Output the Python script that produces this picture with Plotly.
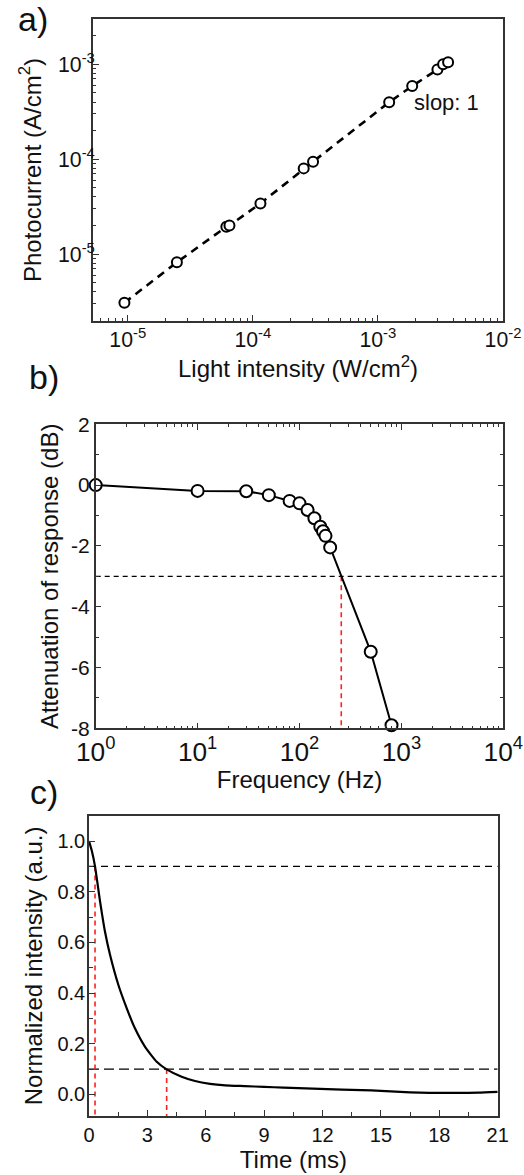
import plotly.graph_objects as go

FONT = "Liberation Sans, Arial, sans-serif"

# ---------- Panel a data ----------
intensity = [9.4e-6, 2.47e-5, 6.14e-5, 6.5e-5, 1.15e-4, 2.55e-4, 3.03e-4,
             1.23e-3, 1.88e-3, 2.99e-3, 3.32e-3, 3.64e-3]
photocurrent = [3.07e-6, 8.2e-6, 1.94e-5, 2.0e-5, 3.42e-5, 8.0e-5, 9.4e-5,
                3.98e-4, 5.9e-4, 8.8e-4, 1.0e-3, 1.05e-3]

# ---------- Panel b data ----------
freq = [1, 10, 30, 50, 80, 100, 120, 140, 160, 170, 180, 200, 500, 800]
atten = [0.0, -0.19, -0.2, -0.33, -0.52, -0.6, -0.82, -1.09, -1.37, -1.52,
         -1.67, -2.05, -5.48, -7.9]
level_3db = [-3, -3]
level_3db_x = [1, 10000]
cutoff_x = [257, 257]
cutoff_y = [-3, -8]

# ---------- Panel c data ----------
time_ms = [0, 0.15, 0.31, 0.57, 0.82, 1.08, 1.51, 1.94, 2.36, 2.88, 3.48,
           3.99, 4.76, 5.45, 6.22, 7.0, 8.0, 9.0, 10.0, 11.5, 13.0, 14.0,
           15.0, 16.0, 17.0, 18.0, 19.0, 20.0, 21.0]
norm_int = [1.0, 0.96, 0.9, 0.761, 0.643, 0.551, 0.432, 0.340, 0.261, 0.188,
            0.129, 0.099, 0.070, 0.053, 0.042, 0.036, 0.033, 0.030, 0.027,
            0.023, 0.019, 0.017, 0.0145, 0.010, 0.007, 0.006, 0.006, 0.007,
            0.010]
level_90 = [0.9, 0.9]
level_10 = [0.1, 0.1]
level_x = [0, 21]
t_rise = [0.31, 0.31]
t_rise_y = [0.9, -0.085]
t_fall = [3.99, 3.99]
t_fall_y = [0.1, -0.085]

W, H = 524, 1175

fig = go.Figure()

# Panel a
fig.add_trace(go.Scatter(x=intensity, y=photocurrent, mode="lines+markers",
                         line=dict(color="black", width=2.6, dash="8px,6px"),
                         marker=dict(symbol="circle", size=10, color="white",
                                     line=dict(color="black", width=2)),
                         xaxis="x", yaxis="y", showlegend=False))

# Panel b
fig.add_trace(go.Scatter(x=level_3db_x, y=level_3db, mode="lines",
                         line=dict(color="black", width=1.2, dash="5px,4px"),
                         xaxis="x2", yaxis="y2", showlegend=False))
fig.add_trace(go.Scatter(x=cutoff_x, y=cutoff_y, mode="lines",
                         line=dict(color="#ff2020", width=1.6, dash="5px,4px"),
                         xaxis="x2", yaxis="y2", showlegend=False))
fig.add_trace(go.Scatter(x=freq, y=atten, mode="lines+markers",
                         line=dict(color="black", width=2),
                         marker=dict(symbol="circle", size=12, color="white",
                                     line=dict(color="black", width=2)),
                         cliponaxis=False,
                         xaxis="x2", yaxis="y2", showlegend=False))

# Panel c
fig.add_trace(go.Scatter(x=level_x, y=level_90, mode="lines",
                         line=dict(color="black", width=1.4, dash="7px,5px"),
                         xaxis="x3", yaxis="y3", showlegend=False))
fig.add_trace(go.Scatter(x=level_x, y=level_10, mode="lines",
                         line=dict(color="black", width=1.4, dash="10px,5px"),
                         xaxis="x3", yaxis="y3", showlegend=False))
fig.add_trace(go.Scatter(x=t_rise, y=t_rise_y, mode="lines",
                         line=dict(color="#ff2020", width=1.6, dash="5px,4px"),
                         xaxis="x3", yaxis="y3", showlegend=False))
fig.add_trace(go.Scatter(x=t_fall, y=t_fall_y, mode="lines",
                         line=dict(color="#ff2020", width=1.6, dash="5px,4px"),
                         xaxis="x3", yaxis="y3", showlegend=False))
fig.add_trace(go.Scatter(x=time_ms, y=norm_int, mode="lines",
                         line=dict(color="black", width=2.2, shape="spline",
                                   smoothing=0.5),
                         xaxis="x3", yaxis="y3", showlegend=False))

LINE = "#333333"
base = dict(showline=True, linecolor=LINE, linewidth=1.5, ticks="inside",
            tickcolor=LINE, tickwidth=1.2, ticklen=6, showgrid=False,
            zeroline=False, automargin=False,
            tickfont=dict(family=FONT, size=20, color="#111"),
            title_font=dict(family=FONT, size=24, color="#111"))


def ax(**kw):
    d = dict(base)
    d.update(kw)
    return d


def px_dom(a, b, total):
    return [a / total, b / total]


M = "\u2212"
pow_alias = {f"10<sup>{M}{k}</sup>": f"10<sup>-{k}</sup>" for k in range(1, 8)}
neg_alias = {f"{M}{k}": f"-{k}" for k in range(1, 10)}

fig.update_layout(
    width=W, height=H,
    margin=dict(l=0, r=0, t=0, b=0),
    paper_bgcolor="white", plot_bgcolor="white",
    font=dict(family=FONT, color="#111"),
    # Panel a
    xaxis=ax(type="log", range=[-5.278, -2.0], domain=px_dom(93, 503, W),
             anchor="y", mirror=True, dtick=1, exponentformat="power",
             labelalias=pow_alias,
             minor=dict(ticks="inside", ticklen=3, tickcolor=LINE, dtick="D1"),
             tickfont=dict(family=FONT, size=17, color="#111"),
             title=dict(text="Light intensity (W/cm<sup>2</sup>)", standoff=4)),
    yaxis=ax(type="log", range=[-5.705, -2.523],
             domain=[1 - 321 / H, 1 - 19 / H], anchor="x", mirror=True,
             dtick=1, exponentformat="power", labelalias=pow_alias,
             ticklabelstandoff=-7,
             minor=dict(ticks="inside", ticklen=3, tickcolor=LINE, dtick="D1"),
             tickfont=dict(family=FONT, size=17, color="#111"),
             title=dict(text="Photocurrent (A/cm<sup>2</sup>)", standoff=10)),
    # Panel b
    xaxis2=ax(type="log", range=[0, 4], domain=px_dom(95.7, 503.3, W),
              anchor="y2", mirror="ticks", dtick=1, exponentformat="power",
              labelalias={"1": "10<sup>0</sup>", "10": "10<sup>1</sup>"},
              minor=dict(ticks="inside", ticklen=3, tickcolor=LINE, dtick="D1"),
              tickfont=dict(family=FONT, size=21, color="#111"),
              title=dict(text="Frequency (Hz)", standoff=4)),
    yaxis2=ax(range=[-8, 2], domain=[1 - 728.3 / H, 1 - 424.3 / H],
              anchor="x2", mirror="ticks", dtick=2, tick0=0,
              labelalias=neg_alias,
              minor=dict(ticks="inside", ticklen=4, tickcolor=LINE, dtick=1),
              tickfont=dict(family=FONT, size=21, color="#111"),
              title=dict(text="Attenuation of response (dB)", standoff=6)),
    # Panel c
    xaxis3=ax(range=[0, 21], domain=px_dom(89, 497.7, W), anchor="y3",
              mirror=True, dtick=3, tick0=0,
              minor=dict(ticks="inside", ticklen=4, tickcolor=LINE, dtick=1.5),
              title=dict(text="Time (ms)", standoff=4)),
    yaxis3=ax(range=[-0.085, 1.1], domain=[1 - 1116 / H, 1 - 815.7 / H],
              anchor="x3", mirror=True, dtick=0.2, tick0=0, tickformat=".1f",
              ticklabelstandoff=-2,
              minor=dict(ticks="inside", ticklen=4, tickcolor=LINE, dtick=0.1),
              title=dict(text="Normalized intensity (a.u.)", standoff=8)),
)

annotations = [
    dict(text="slop: 1", x=-2.449, y=-3.407, xref="x", yref="y",
         showarrow=False, font=dict(family=FONT, size=22, color="#111")),
    dict(text="a)", x=33 / W, y=1 - 19 / H, xref="paper", yref="paper",
         xanchor="center", yanchor="middle",
         showarrow=False, font=dict(family=FONT, size=34, color="#111")),
    dict(text="b)", x=44 / W, y=1 - 377 / H, xref="paper", yref="paper",
         xanchor="center", yanchor="middle",
         showarrow=False, font=dict(family=FONT, size=34, color="#111")),
    dict(text="c)", x=44 / W, y=1 - 792 / H, xref="paper", yref="paper",
         xanchor="center", yanchor="middle",
         showarrow=False, font=dict(family=FONT, size=34, color="#111")),
]
fig.update_layout(annotations=annotations)

fig.write_html("out.html")
